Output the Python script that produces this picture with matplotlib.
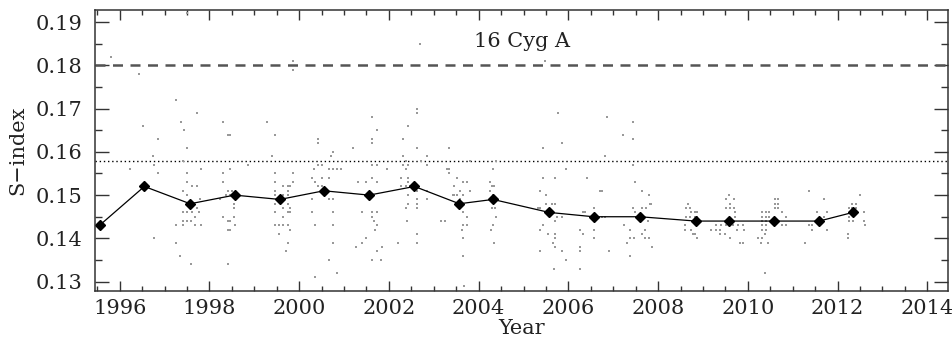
import matplotlib
matplotlib.use("Agg")
import matplotlib.pyplot as plt
from matplotlib.ticker import MultipleLocator

plt.rcParams["font.family"] = "DejaVu Serif"

# seasonal means
mean_year = [1995.55, 1996.55, 1997.57, 1998.56, 1999.57, 2000.55, 2001.56, 2002.57,
             2003.57, 2004.32, 2005.57, 2006.56, 2007.59, 2008.84, 2009.58, 2010.58,
             2011.59, 2012.34]
mean_s = [0.143, 0.152, 0.148, 0.150, 0.149, 0.151, 0.150, 0.152,
          0.148, 0.149, 0.146, 0.145, 0.145, 0.144, 0.144, 0.144,
          0.144, 0.146]

# individual observations, one row per season
obs_year = [
    1995.81, 1996.44, 1996.52, 1996.23, 1996.75, 1996.77, 1996.86, 1996.86, 1996.77,
    1997.25, 1997.36, 1997.43, 1997.51, 1997.41, 1997.51, 1997.50, 1997.41, 1997.61, 1997.72,
    1997.50, 1997.41, 1997.50, 1997.61, 1997.68, 1997.77, 1997.41, 1997.50, 1997.58, 1997.41,
    1997.67, 1997.25, 1997.26, 1997.35, 1997.59, 1997.73, 1997.82, 1997.78, 1997.73, 1997.82,
    1997.50,
    1998.31, 1998.41, 1998.46, 1998.30, 1998.30, 1998.46, 1998.41, 1998.51, 1998.46, 1998.36,
    1998.24, 1998.31, 1998.41, 1998.46, 1998.54, 1998.54, 1998.54, 1998.41, 1998.46, 1998.56,
    1998.41, 1998.87,
    1999.28, 1999.46, 1999.39, 1999.46, 1999.46, 1999.46, 1999.65, 1999.74, 1999.80, 1999.74,
    1999.46, 1999.65, 1999.74, 1999.46, 1999.74, 1999.65, 1999.80, 1999.46, 1999.74, 1999.80,
    1999.65, 1999.46, 1999.54, 1999.65, 1999.74, 1999.80, 1999.56, 1999.74, 1999.70, 1999.87,
    1999.87, 1999.87, 1999.87,
    2000.43, 2000.43, 2000.43, 2000.50, 2000.32, 2000.75, 2000.70, 2000.67, 2000.75, 2000.84,
    2000.93, 2000.28, 2000.50, 2000.67, 2000.35, 2000.43, 2000.50, 2000.28, 2000.67, 2000.75,
    2000.28, 2000.75, 2000.35, 2000.75, 2000.75, 2000.67, 2000.84, 2000.35,
    2001.63, 2001.73, 2001.63, 2001.63, 2001.21, 2001.73, 2001.63, 2001.95, 2001.63, 2001.32,
    2001.50, 2001.73, 2001.39, 2001.63, 2001.73, 2001.63, 2001.67, 2001.73, 2001.70, 2001.50,
    2001.39, 2001.27, 2001.84, 2001.73, 2001.63, 2001.82,
    2002.69, 2002.62, 2002.62, 2002.43, 2002.31, 2002.62, 2002.31, 2002.38, 2002.32, 2002.43,
    2002.38, 2002.84, 2002.84, 2002.71, 2002.28, 2002.43, 2002.43, 2002.28, 2002.38, 2002.47,
    2002.62, 2002.43, 2002.62, 2002.84, 2002.62, 2002.43, 2002.38, 2002.62, 2002.40, 2002.21,
    2002.62, 2002.62, 2002.84,
    2003.34, 2003.29, 2003.34, 2003.34, 2003.51, 2003.45, 2003.66, 2003.73, 2003.81, 2003.58,
    2003.42, 2003.46, 2003.51, 2003.66, 2003.58, 2003.58, 2003.66, 2003.73, 2003.66, 2003.73,
    2003.64, 2003.66, 2003.15, 2003.26, 2003.66, 2003.67, 2003.81,
    2004.33, 2004.38, 2004.25, 2004.30, 2004.35, 2004.25, 2004.33, 2004.30, 2004.36, 2004.38,
    2004.27, 2004.33, 2004.35,
    2005.44, 2005.76, 2005.85, 2005.94, 2005.44, 2005.71, 2005.37, 2005.51, 2005.63, 2005.70,
    2005.51, 2005.74, 2005.85, 2005.70, 2005.33, 2005.37, 2005.51, 2005.63, 2005.37, 2005.44,
    2005.55, 2005.70, 2005.70, 2005.66, 2005.70, 2005.37, 2005.85, 2005.94, 2005.68, 2005.48,
    2006.26, 2006.42, 2006.70, 2006.74, 2006.85, 2006.81, 2006.26, 2006.33, 2006.57, 2006.57,
    2006.26, 2006.26, 2006.91, 2006.33, 2006.37, 2006.74, 2006.81, 2006.57,
    2007.22, 2007.44, 2007.44, 2007.44, 2007.48, 2007.63, 2007.80, 2007.44, 2007.48, 2007.65,
    2007.73, 2007.82, 2007.85, 2007.24, 2007.37, 2007.30, 2007.38, 2007.46, 2007.38, 2007.63,
    2007.70, 2007.70, 2007.79, 2007.87, 2007.78,
    2008.67, 2008.63, 2008.71, 2008.74, 2008.82, 2008.87, 2008.63, 2008.71, 2008.82, 2008.87,
    2008.59, 2008.61, 2008.74, 2008.78, 2008.82, 2008.87,
    2009.58, 2009.69, 2009.51, 2009.60, 2009.51, 2009.60, 2009.69, 2009.71, 2009.71, 2009.17,
    2009.30, 2009.41, 2009.51, 2009.30, 2009.37, 2009.51, 2009.60, 2009.67, 2009.78, 2009.89,
    2009.75, 2009.91, 2009.37, 2009.48, 2009.60, 2009.82, 2009.89,
    2010.32, 2010.41, 2010.47, 2010.32, 2010.41, 2010.32, 2010.41, 2010.32, 2010.41, 2010.32,
    2010.41, 2010.38, 2010.32, 2010.23, 2010.30, 2010.45, 2010.38, 2010.60, 2010.67, 2010.60,
    2010.67, 2010.60, 2010.67, 2010.75, 2010.86, 2010.75, 2010.86, 2010.47,
    2011.36, 2011.69, 2011.53, 2011.76, 2011.36, 2011.44, 2011.44, 2011.76, 2011.27, 2011.69,
    2012.49, 2012.33, 2012.42, 2012.25, 2012.33, 2012.42, 2012.58, 2012.25, 2012.34, 2012.59,
    2012.60, 2012.23, 2012.23, 2012.25,
]
obs_s = [
    0.182, 0.178, 0.166, 0.156, 0.159, 0.157, 0.155, 0.163, 0.140,
    0.172, 0.167, 0.165, 0.161, 0.158, 0.155, 0.153, 0.151, 0.152, 0.152,
    0.150, 0.146, 0.146, 0.146, 0.145, 0.146, 0.144, 0.144, 0.144, 0.143,
    0.143, 0.143, 0.139, 0.136, 0.134, 0.169, 0.156, 0.149, 0.147, 0.143,
    0.192,
    0.167, 0.164, 0.164, 0.155, 0.153, 0.156, 0.151, 0.151, 0.150, 0.150,
    0.149, 0.145, 0.144, 0.144, 0.145, 0.147, 0.148, 0.142, 0.142, 0.143,
    0.134, 0.157,
    0.167, 0.164, 0.159, 0.155, 0.153, 0.151, 0.152, 0.152, 0.152, 0.151,
    0.150, 0.150, 0.150, 0.148, 0.148, 0.147, 0.147, 0.146, 0.146, 0.146,
    0.145, 0.143, 0.143, 0.143, 0.143, 0.142, 0.141, 0.139, 0.137, 0.181,
    0.179, 0.155, 0.153,
    0.163, 0.162, 0.157, 0.157, 0.156, 0.160, 0.159, 0.156, 0.156, 0.156,
    0.156, 0.154, 0.154, 0.154, 0.153, 0.152, 0.152, 0.149, 0.149, 0.149,
    0.146, 0.146, 0.143, 0.143, 0.139, 0.135, 0.132, 0.131,
    0.168, 0.165, 0.163, 0.162, 0.161, 0.157, 0.157, 0.156, 0.154, 0.153,
    0.153, 0.153, 0.146, 0.146, 0.146, 0.145, 0.144, 0.143, 0.142, 0.140,
    0.139, 0.138, 0.138, 0.137, 0.135, 0.135,
    0.185, 0.170, 0.169, 0.166, 0.163, 0.161, 0.159, 0.158, 0.157, 0.157,
    0.156, 0.159, 0.157, 0.158, 0.154, 0.154, 0.153, 0.152, 0.152, 0.152,
    0.151, 0.150, 0.149, 0.149, 0.148, 0.148, 0.147, 0.147, 0.144, 0.139,
    0.141, 0.139, 0.151,
    0.161, 0.156, 0.156, 0.155, 0.154, 0.152, 0.153, 0.153, 0.151, 0.151,
    0.150, 0.150, 0.150, 0.150, 0.149, 0.147, 0.146, 0.145, 0.143, 0.143,
    0.142, 0.140, 0.144, 0.144, 0.136, 0.129, 0.158,
    0.156, 0.158, 0.153, 0.152, 0.152, 0.151, 0.150, 0.147, 0.147, 0.145,
    0.142, 0.143, 0.139,
    0.161, 0.169, 0.162, 0.156, 0.154, 0.154, 0.151, 0.150, 0.148, 0.148,
    0.148, 0.145, 0.145, 0.144, 0.147, 0.147, 0.146, 0.146, 0.142, 0.143,
    0.141, 0.141, 0.140, 0.139, 0.138, 0.137, 0.137, 0.135, 0.133, 0.181,
    0.133, 0.154, 0.151, 0.151, 0.168, 0.159, 0.142, 0.141, 0.142, 0.140,
    0.138, 0.137, 0.137, 0.146, 0.146, 0.145, 0.145, 0.147,
    0.164, 0.167, 0.163, 0.157, 0.153, 0.151, 0.150, 0.147, 0.146, 0.147,
    0.147, 0.148, 0.148, 0.143, 0.142, 0.139, 0.140, 0.140, 0.136, 0.141,
    0.142, 0.140, 0.140, 0.138, 0.144,
    0.148, 0.147, 0.147, 0.146, 0.146, 0.146, 0.145, 0.145, 0.145, 0.145,
    0.143, 0.142, 0.142, 0.141, 0.141, 0.140,
    0.150, 0.149, 0.149, 0.148, 0.147, 0.147, 0.147, 0.146, 0.145, 0.142,
    0.143, 0.143, 0.143, 0.142, 0.142, 0.144, 0.143, 0.143, 0.143, 0.143,
    0.142, 0.142, 0.141, 0.141, 0.140, 0.139, 0.139,
    0.146, 0.146, 0.146, 0.145, 0.145, 0.144, 0.144, 0.143, 0.143, 0.142,
    0.142, 0.141, 0.140, 0.140, 0.139, 0.139, 0.132, 0.149, 0.149, 0.148,
    0.148, 0.147, 0.147, 0.146, 0.145, 0.143, 0.143, 0.145,
    0.151, 0.149, 0.146, 0.146, 0.143, 0.143, 0.142, 0.142, 0.139, 0.145,
    0.150, 0.148, 0.148, 0.147, 0.147, 0.147, 0.146, 0.145, 0.144, 0.144,
    0.143, 0.141, 0.140, 0.144,
]

upper_level = 0.180
dotted_level = 0.158

fig = plt.figure(figsize=(9.53, 3.42), dpi=100)
ax = fig.add_axes([0.0997, 0.15, 0.8955, 0.8208])

ax.axhline(upper_level, color="#555555", lw=1.8, dashes=(4.0, 3.0))
ax.axhline(dotted_level, color="black", lw=1.0, dashes=(1.0, 2.0))

ax.plot(obs_year, obs_s, ls="none", marker="s", ms=2.0, mew=0,
        color="#999999")
ax.plot(mean_year, mean_s, color="black", lw=0.9, marker="D", ms=5.5,
        mfc="black", mec="black")

ax.text(0.5, 0.886, "16 Cyg A", transform=ax.transAxes, ha="center",
        va="center", fontsize=15, color="#222222")

ax.set_xlim(1995.45, 2014.47)
ax.set_ylim(0.1279, 0.1928)
ax.xaxis.set_major_locator(MultipleLocator(2))
ax.xaxis.set_minor_locator(MultipleLocator(0.5))
ax.yaxis.set_major_locator(MultipleLocator(0.01))
ax.yaxis.set_minor_locator(MultipleLocator(0.005))
ax.yaxis.set_major_formatter(plt.FormatStrFormatter("%.2f"))

ax.tick_params(which="both", direction="in", top=True, right=True,
               labelsize=15, width=1.0, color="#333333", labelcolor="#222222")
ax.tick_params(axis="x", which="major", length=7, pad=6)
ax.tick_params(axis="x", which="minor", length=3.6)
ax.tick_params(axis="y", which="major", length=10, pad=9)
ax.tick_params(axis="y", which="minor", length=5)
for sp in ax.spines.values():
    sp.set_linewidth(1.1)
    sp.set_color("#333333")

ax.set_xlabel("Year", fontsize=15, labelpad=1, color="#222222")
ax.set_ylabel("S\u2212index", fontsize=15, labelpad=6, color="#222222")

fig.savefig("out.png", dpi=100)
